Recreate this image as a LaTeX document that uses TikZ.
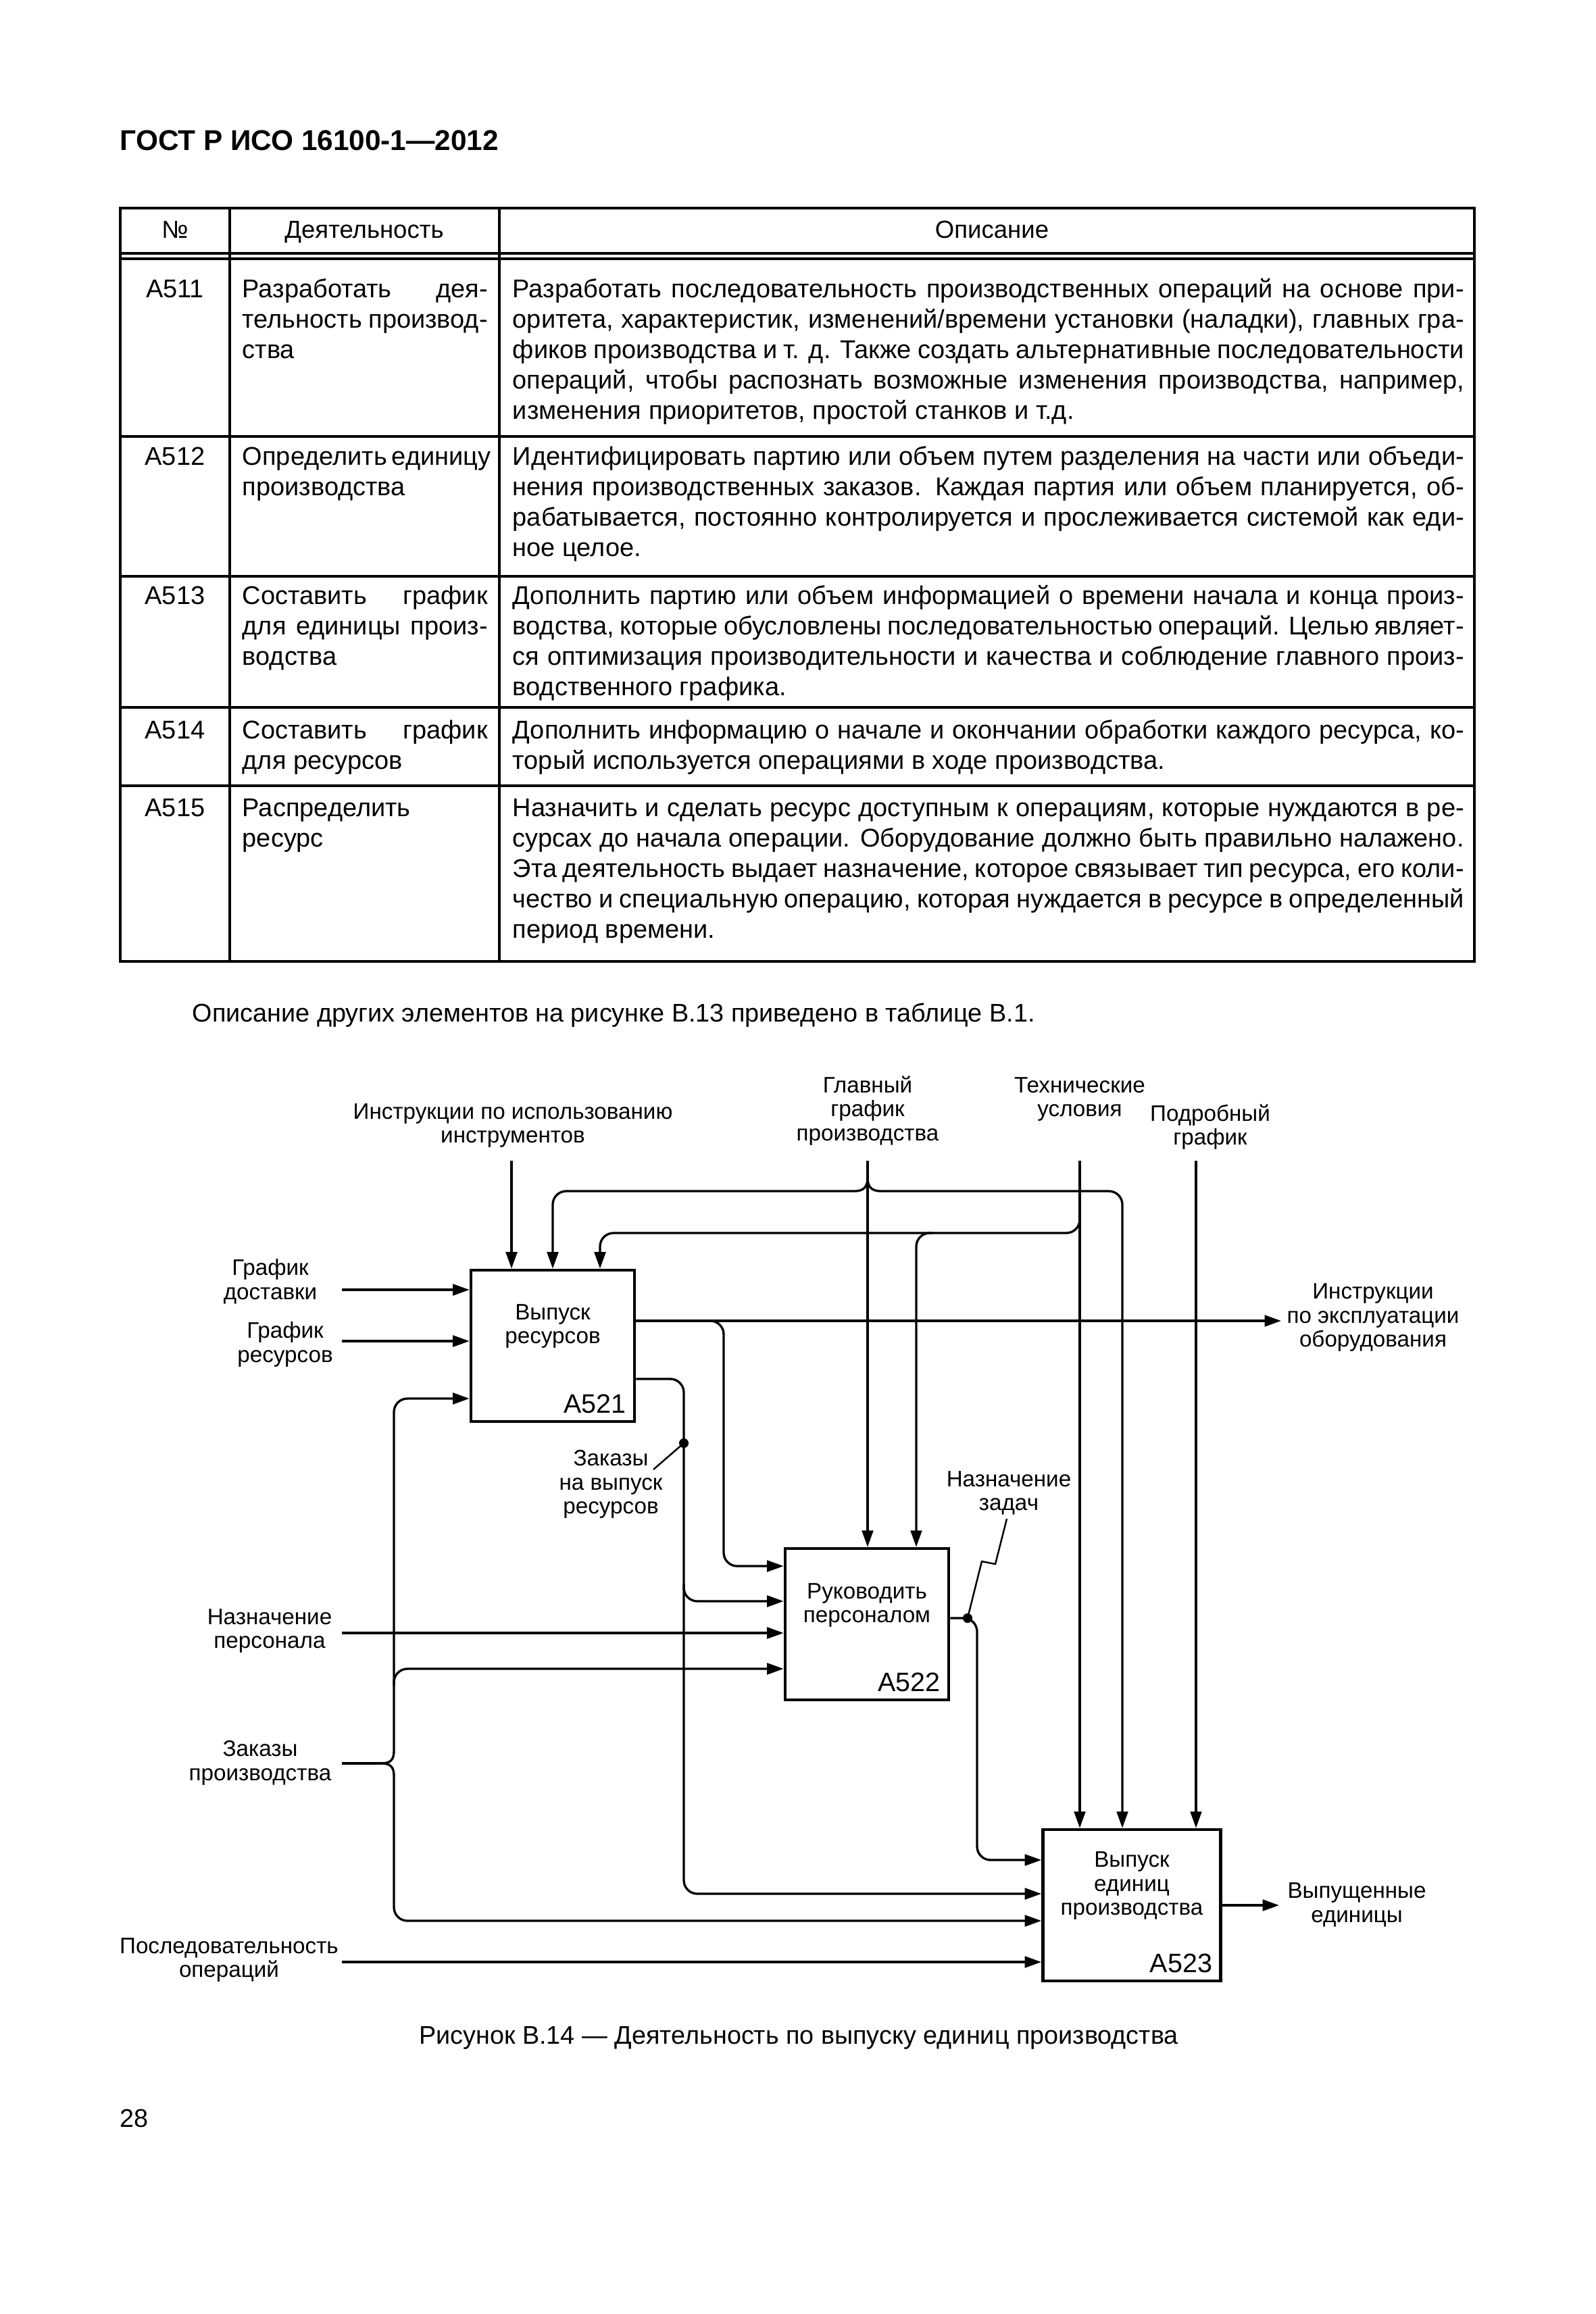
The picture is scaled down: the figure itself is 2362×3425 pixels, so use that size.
\documentclass[tikz,border=0pt]{standalone}
\usepackage{fontspec}
\setmainfont{Liberation Sans}
\usepackage{tikz}
\usetikzlibrary{arrows.meta, positioning, calc}
\newlength{\pxu}
\setlength{\pxu}{0.084667mm}
\newcommand{\wcol}[1]{\hbox to 1408\pxu{#1}}
\newcommand{\ncol}[1]{\hbox to 363\pxu{#1}}
\tikzset{
  tabline/.style={line width=0.85pt},
  tabtext/.style={font=\fontsize{9.15}{10.85}\selectfont, inner sep=0pt},
  headtext/.style={font=\fontsize{8.8}{10}\selectfont, inner sep=0pt, anchor=base},
  pagetext/.style={font=\fontsize{9.1}{11}\selectfont, inner sep=0pt},
  actbox/.style={rectangle, draw, line width=1.1pt, inner sep=0pt},
  boxtext/.style={font=\fontsize{8}{8.6}\selectfont, align=center, inner sep=0pt},
  boxid/.style={font=\fontsize{9.5}{10}\selectfont, inner sep=0pt, anchor=south east},
  flowlabel/.style={font=\fontsize{8}{8.6}\selectfont, align=center, inner sep=0pt},
  arrow/.style={-{Triangle[length=5.9pt, width=4pt]}, line width=0.8pt},
  line/.style={line width=0.8pt},
  leader/.style={line width=0.6pt},
  roundpath/.style={rounded corners=4.8pt}
}

\begin{document}
\begin{tikzpicture}[x=\pxu, y=-\pxu]
  \useasboundingbox (0,0) rectangle (2362,3425);

  % Page header
  \node[pagetext, anchor=base west, font=\fontsize{10.2}{12}\selectfont\bfseries] (title) at (177,222) {ГОСТ Р ИСО 16100-1—2012};

  % Table frame
  \draw[tabline] (178,308) rectangle (2182,1423);
  \draw[tabline] (340,308) -- (340,1423);
  \draw[tabline] (739,308) -- (739,1423);
  \foreach \y in {375,383,646,853,1047,1163}
    \draw[tabline] (178,\y) -- (2182,\y);

  % Table header
  \node[headtext] (hnum) at (259,352) {№};
  \node[headtext] (hact) at (539,352) {Деятельность};
  \node[headtext] (hdesc) at (1468,352) {Описание};

  % Row A511
  \node[tabtext, anchor=base] (n511) at (259,440) {A511};
  \node[tabtext, anchor=base west] (t511) at (358,440) {\vtop{\ncol{Разработать дея-}\ncol{тельность производ-}\hbox{ства}}};
  \node[tabtext, anchor=base west] (d511) at (758,440) {\vtop{%
    \wcol{Разработать последовательность производственных операций на основе при-}
    \wcol{оритета, характеристик, изменений/времени установки (наладки), главных гра-}
    \wcol{фиков производства и т. д. Также создать альтернативные последовательности}
    \wcol{операций, чтобы распознать возможные изменения производства, например,}
    \hbox{изменения приоритетов, простой станков и т.д.}}};

  % Row A512
  \node[tabtext, anchor=base] (n512) at (259,688) {A512};
  \node[tabtext, anchor=base west] (t512) at (358,688) {\vtop{\ncol{Определить единицу}\hbox{производства}}};
  \node[tabtext, anchor=base west] (d512) at (758,688) {\vtop{%
    \wcol{Идентифицировать партию или объем путем разделения на части или объеди-}
    \wcol{нения производственных заказов. Каждая партия или объем планируется, об-}
    \wcol{рабатывается, постоянно контролируется и прослеживается системой как еди-}
    \hbox{ное целое.}}};

  % Row A513
  \node[tabtext, anchor=base] (n513) at (259,894) {A513};
  \node[tabtext, anchor=base west] (t513) at (358,894) {\vtop{\ncol{Составить график}\ncol{для единицы произ-}\hbox{водства}}};
  \node[tabtext, anchor=base west] (d513) at (758,894) {\vtop{%
    \wcol{Дополнить партию или объем информацией о времени начала и конца произ-}
    \wcol{водства, которые обусловлены последовательностью операций. Целью являет-}
    \wcol{ся оптимизация производительности и качества и соблюдение главного произ-}
    \hbox{водственного графика.}}};

  % Row A514
  \node[tabtext, anchor=base] (n514) at (259,1093) {A514};
  \node[tabtext, anchor=base west] (t514) at (358,1093) {\vtop{\ncol{Составить график}\hbox{для ресурсов}}};
  \node[tabtext, anchor=base west] (d514) at (758,1093) {\vtop{%
    \wcol{Дополнить информацию о начале и окончании обработки каждого ресурса, ко-}
    \hbox{торый используется операциями в ходе производства.}}};

  % Row A515
  \node[tabtext, anchor=base] (n515) at (259,1208) {A515};
  \node[tabtext, anchor=base west] (t515) at (358,1208) {\vtop{\hbox{Распределить}\hbox{ресурс}}};
  \node[tabtext, anchor=base west] (d515) at (758,1208) {\vtop{%
    \wcol{Назначить и сделать ресурс доступным к операциям, которые нуждаются в ре-}
    \wcol{сурсах до начала операции. Оборудование должно быть правильно налажено.}
    \wcol{Эта деятельность выдает назначение, которое связывает тип ресурса, его коли-}
    \wcol{чество и специальную операцию, которая нуждается в ресурсе в определенный}
    \hbox{период времени.}}};

  % Note under the table
  \node[pagetext, anchor=base west] (note) at (284,1512) {Описание других элементов на рисунке В.13 приведено в таблице В.1.};

  % Activity boxes
  \node[actbox, minimum width=242\pxu, minimum height=224\pxu] (a521) at (818,1992) {};
  \node[actbox, minimum width=242\pxu, minimum height=224\pxu] (a522) at (1283,2404) {};
  \node[actbox, minimum width=263\pxu, minimum height=224\pxu] (a523) at (1675,2820) {};
  \node[boxtext] (a521t) at (818,1963) {Выпуск\\ресурсов};
  \node[boxtext] (a522t) at (1283,2376) {Руководить\\персоналом};
  \node[boxtext] (a523t) at (1675,2791) {Выпуск\\единиц\\производства};
  \node[boxid] (a521id) at ([xshift=-14\pxu, yshift=14\pxu]a521.south east) {A521};
  \node[boxid] (a522id) at ([xshift=-14\pxu, yshift=14\pxu]a522.south east) {A522};
  \node[boxid] (a523id) at ([xshift=-14\pxu, yshift=14\pxu]a523.south east) {A523};

  % Arrow labels
  \node[flowlabel] (tooluse) at (759,1666) {Инструкции по использованию\\инструментов};
  \node[flowlabel] (mastersch) at (1284,1644) {Главный\\график\\производства};
  \node[flowlabel] (techcond) at (1598,1627) {Технические\\условия};
  \node[flowlabel] (detsch) at (1791,1668) {Подробный\\график};
  \node[flowlabel] (delivsch) at (400,1897) {График\\доставки};
  \node[flowlabel] (ressch) at (422,1990) {График\\ресурсов};
  \node[flowlabel] (equipinst) at (2032,1950) {Инструкции\\по эксплуатации\\оборудования};
  \node[flowlabel] (resorders) at (904,2197) {Заказы\\на выпуск\\ресурсов};
  \node[flowlabel] (taskassign) at (1493,2210) {Назначение\\задач};
  \node[flowlabel] (staffassign) at (399,2414) {Назначение\\персонала};
  \node[flowlabel] (prodorders) at (385,2609) {Заказы\\производства};
  \node[flowlabel] (opseq) at (339,2901) {Последовательность\\операций};
  \node[flowlabel] (released) at (2008,2819) {Выпущенные\\единицы};

  % Controls from the top
  \coordinate (tu) at (757,1718);
  \draw[arrow] (tu) -- (tu |- a521.north);
  \coordinate (ms) at (1284,1718);
  \draw[arrow] (ms) -- (ms |- a522.north);
  \draw[line] (1264,1763) .. controls (1279,1763) and (1284,1756) .. (1284,1743);
  \draw[line] (1304,1763) .. controls (1289,1763) and (1284,1756) .. (1284,1743);
  \coordinate (msl) at (818,1763);
  \coordinate (msr) at (1661,1763);
  \draw[arrow, roundpath] (1264,1763) -- (msl) -- (msl |- a521.north);
  \draw[arrow, roundpath] (1304,1763) -- (msr) -- (msr |- a523.north);
  \coordinate (tc) at (1598,1718);
  \draw[arrow] (tc) -- (tc |- a523.north);
  \coordinate (tcl) at (888,1825);
  \draw[arrow, roundpath] (1598,1790) |- (tcl) -- (tcl |- a521.north);
  \coordinate (tcb) at (1356,1825);
  \draw[arrow, roundpath] (1380,1825) -- (tcb) -- (tcb |- a522.north);
  \coordinate (ds) at (1770,1718);
  \draw[arrow] (ds) -- (ds |- a523.north);

  % Inputs of A521
  \coordinate (dl) at (506,1909);
  \draw[arrow] (dl) -- (dl -| a521.west);
  \coordinate (rs) at (506,1985);
  \draw[arrow] (rs) -- (rs -| a521.west);

  % Outputs of A521
  \coordinate (ei) at (1896,1955);
  \draw[arrow] (ei -| a521.east) -- (ei);
  \coordinate (eib) at (1071,2318);
  \draw[arrow, roundpath] (1050,1955) -| (eib) -- (eib -| a522.west);
  \coordinate (ro) at (1012,2041);
  \coordinate (ro2) at (1012,2803);
  \draw[arrow, roundpath] (a521.east |- ro) -- (ro) -- (ro2) -- (ro2 -| a523.west);
  \coordinate (rob) at (1012,2370);
  \draw[arrow, roundpath] (1012,2345) -- (rob) -- (rob -| a522.west);
  \coordinate (rodot) at (1012,2136);
  \fill (rodot) circle[radius=1.7pt];
  \draw[leader] (rodot) -- (967,2175);

  % Staff assignment
  \coordinate (sa) at (506,2417);
  \draw[arrow] (sa) -- (sa -| a522.west);

  % Production orders fork
  \coordinate (po) at (506,2610);
  \coordinate (pof) at (565,2610);
  \draw[line] (po) -- (pof);
  \draw[line] (pof) .. controls (578,2610) and (583,2604) .. (583,2592);
  \draw[line] (pof) .. controls (578,2610) and (583,2616) .. (583,2628);
  \coordinate (pot) at (583,2070);
  \draw[arrow, roundpath] (583,2592) -- (pot) -- (pot -| a521.west);
  \coordinate (pob) at (583,2470);
  \draw[arrow, roundpath] (583,2495) -- (pob) -- (pob -| a522.west);
  \coordinate (pod) at (583,2843);
  \draw[arrow, roundpath] (583,2628) -- (pod) -- (pod -| a523.west);

  % Operations sequence
  \coordinate (os) at (506,2904);
  \draw[arrow] (os) -- (os -| a523.west);

  % Output of A522
  \coordinate (tad) at (1432,2395);
  \coordinate (tab) at (1446,2753);
  \draw[arrow, roundpath] (a522.east |- tad) -- (1446,2395) -- (tab) -- (tab -| a523.west);
  \fill (tad) circle[radius=1.7pt];
  \draw[leader] (tad) -- (1453,2311) -- (1473,2315) -- (1490,2248);

  % Output of A523
  \coordinate (ru) at (1893,2820);
  \draw[arrow] (a523.east |- ru) -- (ru);

  % Caption and page number
  \node[pagetext, anchor=base] (caption) at (1182,3025) {Рисунок В.14 — Деятельность по выпуску единиц производства};
  \node[pagetext, anchor=base west] (pagenum) at (177,3148) {28};
\end{tikzpicture}
\end{document}
